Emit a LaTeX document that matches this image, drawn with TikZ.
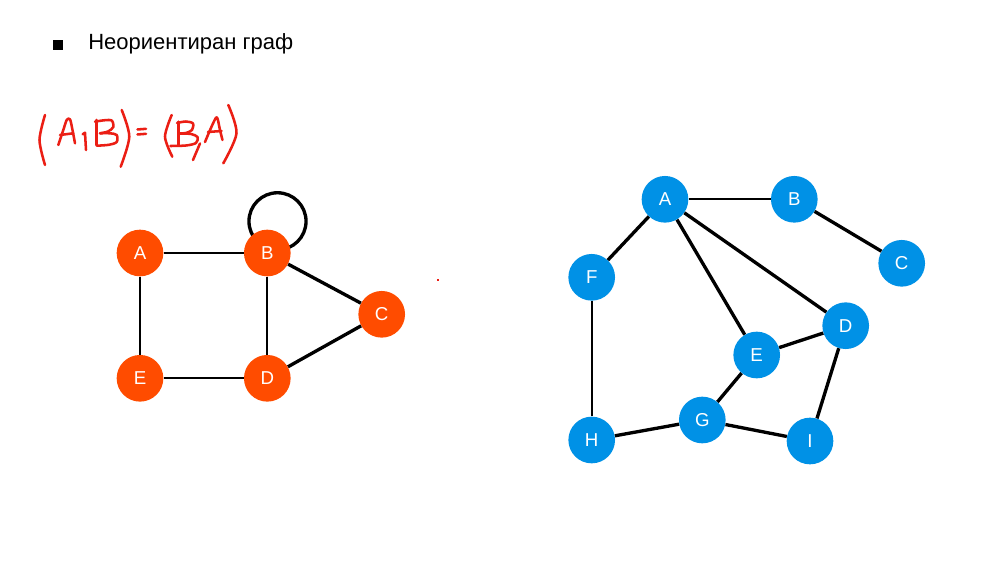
\documentclass[tikz,border=0pt]{standalone}
\usepackage{fontspec}
\setmainfont{Liberation Sans}
\definecolor{orangeN}{RGB}{255,76,0}
\definecolor{blueN}{RGB}{0,145,230}
\definecolor{inkred}{RGB}{235,30,20}
\begin{document}
\begin{tikzpicture}[x=0.75pt,y=-0.75pt,
  onode/.style={circle,fill=orangeN,minimum size=35pt,inner sep=0pt,text=white,font=\fontsize{14}{15}\selectfont},
  bnode/.style={circle,fill=blueN,minimum size=35pt,inner sep=0pt,text=white,font=\fontsize{14}{15}\selectfont},
  thinedge/.style={draw=black,line width=1.4pt},
  midedge/.style={draw=black,line width=1.7pt},
  thickedge/.style={draw=black,line width=2.5pt},
  ink/.style={draw=inkred,line width=1.9pt,line cap=round,line join=round}]
\useasboundingbox (0,0) rectangle (999,566);
\fill[white] (0,0) rectangle (999,566);

% title
\fill[black] (53,40) rectangle (63,50);
\node[anchor=base west,inner sep=0pt,font=\fontsize{16.5}{18}\selectfont] (title) at (88,50) {Неориентиран граф};

% handwritten formula
\draw[ink] plot[smooth] coordinates {(45,115) (39.5,140) (45,165)};
\draw[ink] plot[smooth] coordinates {(58.3,145) (63,131) (66.7,120) (70,119.3) (72.5,130) (75,143.3)};
\draw[ink] (60,135) -- (73.3,133.3);
\draw[ink] (82.7,134.3) -- (85,132.7) -- (86,150);
\draw[ink] (96.7,120) -- (96.7,145);
\draw[ink] plot[smooth] coordinates {(95,121.7) (104,120.3) (111.7,120.5) (113.3,127) (108,131.5) (100,133.3)};
\draw[ink] plot[smooth] coordinates {(100,133.3) (110,133.3) (116.7,135) (116.7,142) (109,144.8) (96.7,145.7)};
\draw[ink] plot[smooth] coordinates {(121.7,110) (129.3,136.7) (120.7,166.7)};
\draw[ink] (137.5,129.5) -- (146,128.8);
\draw[ink] (137.5,134.5) -- (146,133.8);
\draw[ink] plot[smooth] coordinates {(171.7,115) (165,136.7) (172.3,156.7)};
\draw[ink] (178.3,121.7) -- (178.3,145);
\draw[ink] plot[smooth] coordinates {(177,123) (186,121.5) (193,123.5) (192,130) (186,133) (180,133.5)};
\draw[ink] plot[smooth] coordinates {(180,133.5) (191,134) (197.5,137) (196,143) (186,145.5) (170.5,146)};
\draw[ink] (200,143.5) -- (193,160);
\draw[ink] plot[smooth] coordinates {(205,142) (210.5,129) (215.5,118.5) (217.5,118.5) (220,130) (222.5,140)};
\draw[ink] (208,132) -- (221.5,131);
\draw[ink] plot[smooth] coordinates {(228.3,105) (236.5,133.3) (223.3,163.3)};

% tiny red dot
\fill[inkred] (437.3,279) rectangle (439.3,281);

% orange graph
\coordinate (loopc) at (277.5,221.3);
\draw[black,line width=2.5pt] (loopc) circle (21.4pt);
\node[onode] (oA) at (140,253) {A};
\node[onode] (oB) at (267.3,253) {B};
\node[onode] (oC) at (381.7,314.3) {C};
\node[onode] (oD) at (267.3,378.3) {D};
\node[onode] (oE) at (140,378.3) {E};
\draw[thinedge] (oA) -- (oB);
\draw[thinedge] (oA) -- (oE);
\draw[thinedge] (oB) -- (oD);
\draw[midedge] (oE) -- (oD);
\draw[thickedge] (oB) -- (oC);
\draw[thickedge] (oC) -- (oD);

% blue graph
\node[bnode] (bA) at (665,199.3) {A};
\node[bnode] (bB) at (794.3,199.3) {B};
\node[bnode] (bC) at (901.7,263.3) {C};
\node[bnode] (bF) at (591.7,277.3) {F};
\node[bnode] (bD) at (845.7,325.7) {D};
\node[bnode] (bE) at (756.7,355) {E};
\node[bnode] (bG) at (702.3,420) {G};
\node[bnode] (bH) at (591.7,440) {H};
\node[bnode] (bI) at (810,441) {I};
\draw[thinedge] (bA) -- (bB);
\draw[thinedge] (bF) -- (bH);
\draw[thickedge] (bB) -- (bC);
\draw[thickedge] (bA) -- (bF);
\draw[thickedge] (bA) -- (bE);
\draw[thickedge] (bA) -- (bD);
\draw[thickedge] (bE) -- (bD);
\draw[thickedge] (bE) -- (bG);
\draw[thickedge] (bD) -- (bI);
\draw[thickedge] (bH) -- (bG);
\draw[thickedge] (bG) -- (bI);
\end{tikzpicture}
\end{document}
